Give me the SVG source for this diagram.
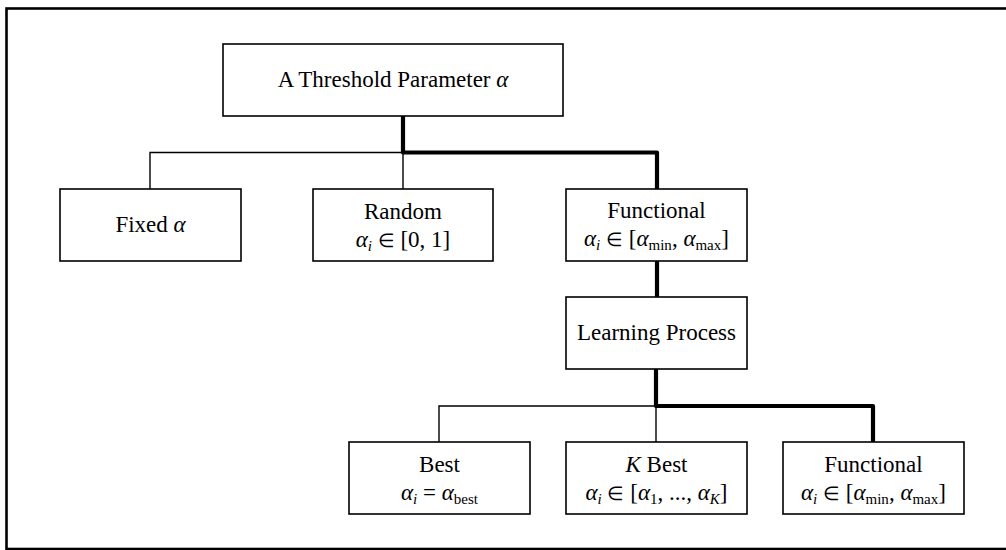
<svg xmlns="http://www.w3.org/2000/svg" width="1006" height="550" viewBox="0 0 1006 550">
  <style>
    .box { fill: #ffffff; stroke: #000000; stroke-width: 1.6; }
    .thin { fill: none; stroke: #000000; stroke-width: 1.4; }
    .thick { fill: none; stroke: #000000; stroke-width: 4.2; stroke-linejoin: round; }
    text { font-family: "Liberation Serif", "Times New Roman", serif; font-size: 23px; fill: #000000; text-anchor: middle; }
    .it { font-style: italic; }
    .sub { font-size: 15px; }
    .op { font-size: 19px; }
  </style>

  <!-- outer frame -->
  <rect x="6.5" y="8.5" width="1004" height="540.5" fill="#ffffff" stroke="#000000" stroke-width="2.6"/>

  <!-- connectors -->
  <g id="connectors">
    <!-- first level, unselected branches -->
    <polyline class="thin" points="150,189 150,152.5 403,152.5 403,189"/>
    <!-- first level, selected branch -->
    <polyline class="thick" points="403,116 403,152.5 657,152.5 657,189"/>
    <!-- functional to learning process -->
    <line class="thick" x1="657" y1="261" x2="657" y2="297"/>
    <!-- second level, unselected branches -->
    <polyline class="thin" points="439,442 439,406 656,406 656,442"/>
    <!-- second level, selected branch -->
    <polyline class="thick" points="656,369 656,406 873,406 873,442"/>
  </g>

  <g id="node-root">
    <rect class="box" x="223" y="44" width="340" height="72"/>
    <text x="393" y="87">A Threshold Parameter <tspan class="it">α</tspan></text>
  </g>

  <g id="node-fixed">
    <rect class="box" x="60" y="189" width="181" height="72"/>
    <text x="150.5" y="232">Fixed <tspan class="it">α</tspan></text>
  </g>

  <g id="node-random">
    <rect class="box" x="313" y="189" width="180" height="72"/>
    <text x="403" y="219">Random</text>
    <text x="403" y="247"><tspan class="it">α</tspan><tspan class="it sub" dy="4">i</tspan><tspan dy="-4"> </tspan><tspan class="op">∈</tspan><tspan> [0, 1]</tspan></text>
  </g>

  <g id="node-functional">
    <rect class="box" x="566" y="189" width="181" height="72"/>
    <text x="656.5" y="218">Functional</text>
    <text x="656.5" y="246"><tspan class="it">α</tspan><tspan class="it sub" dy="4">i</tspan><tspan dy="-4"> </tspan><tspan class="op">∈</tspan><tspan> [</tspan><tspan class="it">α</tspan><tspan class="sub" dy="4">min</tspan><tspan dy="-4">, </tspan><tspan class="it">α</tspan><tspan class="sub" dy="4">max</tspan><tspan dy="-4">]</tspan></text>
  </g>

  <g id="node-learning">
    <rect class="box" x="566" y="297" width="181" height="72"/>
    <text x="656.5" y="340">Learning Process</text>
  </g>

  <g id="node-best">
    <rect class="box" x="349" y="442" width="181" height="72"/>
    <text x="439.5" y="472">Best</text>
    <text x="439.5" y="500"><tspan class="it">α</tspan><tspan class="it sub" dy="4">i</tspan><tspan dy="-4"> = </tspan><tspan class="it">α</tspan><tspan class="sub" dy="4">best</tspan></text>
  </g>

  <g id="node-kbest">
    <rect class="box" x="566" y="442" width="181" height="72"/>
    <text x="656.5" y="472"><tspan class="it">K</tspan> Best</text>
    <text x="656.5" y="500"><tspan class="it">α</tspan><tspan class="it sub" dy="4">i</tspan><tspan dy="-4"> </tspan><tspan class="op">∈</tspan><tspan> [</tspan><tspan class="it">α</tspan><tspan class="sub" dy="4">1</tspan><tspan dy="-4">, ..., </tspan><tspan class="it">α</tspan><tspan class="it sub" dy="4">K</tspan><tspan dy="-4">]</tspan></text>
  </g>

  <g id="node-functional-2">
    <rect class="box" x="783" y="442" width="181" height="72"/>
    <text x="873.5" y="472">Functional</text>
    <text x="873.5" y="500"><tspan class="it">α</tspan><tspan class="it sub" dy="4">i</tspan><tspan dy="-4"> </tspan><tspan class="op">∈</tspan><tspan> [</tspan><tspan class="it">α</tspan><tspan class="sub" dy="4">min</tspan><tspan dy="-4">, </tspan><tspan class="it">α</tspan><tspan class="sub" dy="4">max</tspan><tspan dy="-4">]</tspan></text>
  </g>
</svg>
